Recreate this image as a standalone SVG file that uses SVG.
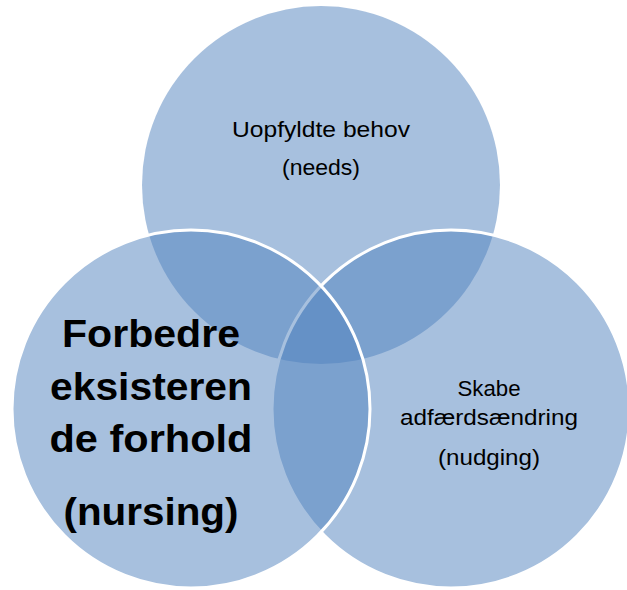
<svg xmlns="http://www.w3.org/2000/svg" width="627" height="590" viewBox="0 0 627 590">
<style>
.c{fill:#4F81BD;fill-opacity:0.5}
.s{stroke:#FFFFFF;stroke-width:3}
.t{font-family:"Liberation Sans",Arial,sans-serif;font-size:22px;fill:#000;text-anchor:middle}
.b{font-family:"Liberation Sans",Arial,sans-serif;font-size:38px;font-weight:bold;fill:#000;text-anchor:middle}
</style>
<rect width="627" height="590" fill="#FFFFFF"/>
<g id="needs">
<circle class="c" cx="321" cy="185" r="179"/>
<text class="t" x="321" y="137" textLength="178" lengthAdjust="spacingAndGlyphs">Uopfyldte behov</text>
<text class="t" x="321" y="175" textLength="78" lengthAdjust="spacingAndGlyphs">(needs)</text>
</g>
<g id="nudging">
<circle class="c s" cx="451" cy="409" r="179"/>
<text class="t" x="489" y="396" textLength="63" lengthAdjust="spacingAndGlyphs">Skabe</text>
<text class="t" x="489" y="425" textLength="178" lengthAdjust="spacingAndGlyphs">adfærdsændring</text>
<text class="t" x="489" y="465" textLength="102" lengthAdjust="spacingAndGlyphs">(nudging)</text>
</g>
<g id="nursing">
<circle class="c s" cx="191" cy="409" r="179"/>
<text class="b" x="151" y="347" textLength="178" lengthAdjust="spacingAndGlyphs">Forbedre</text>
<text class="b" x="151" y="400" textLength="202" lengthAdjust="spacingAndGlyphs">eksisteren</text>
<text class="b" x="151" y="452" textLength="203" lengthAdjust="spacingAndGlyphs">de forhold</text>
<text class="b" x="151" y="525" textLength="175" lengthAdjust="spacingAndGlyphs">(nursing)</text>
</g>
<g id="connectors"></g>
</svg>
